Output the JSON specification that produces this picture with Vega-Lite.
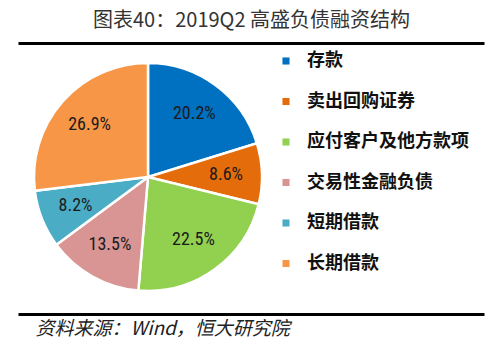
{
  "$schema": "https://vega.github.io/schema/vega-lite/v6.json",
  "width": 466,
  "height": 271,
  "autosize": {"type": "none"},
  "padding": {"left": 18, "top": 43, "right": 14, "bottom": 37},
  "background": "white",
  "config": {"view": {"stroke": null}, "font": "Noto Sans CJK SC"},
  "data": {
    "values": [
      {"category": "存款", "value": 20.2, "order": 1, "label": "20.2%"},
      {"category": "卖出回购证券", "value": 8.6, "order": 2, "label": "8.6%"},
      {"category": "应付客户及他方款项", "value": 22.5, "order": 3, "label": "22.5%"},
      {"category": "交易性金融负债", "value": 13.5, "order": 4, "label": "13.5%"},
      {"category": "短期借款", "value": 8.2, "order": 5, "label": "8.2%"},
      {"category": "长期借款", "value": 26.9, "order": 6, "label": "26.9%"}
    ]
  },
  "layer": [
    {
      "mark": {"type": "arc", "outerRadius": 114, "stroke": "white", "strokeWidth": 2.5, "x": 130, "y": 134},
      "encoding": {
        "theta": {"field": "value", "type": "quantitative", "stack": true},
        "order": {"field": "order", "type": "quantitative"},
        "color": {
          "field": "category",
          "type": "nominal",
          "sort": ["存款", "卖出回购证券", "应付客户及他方款项", "交易性金融负债", "短期借款", "长期借款"],
          "scale": {
            "domain": ["存款", "卖出回购证券", "应付客户及他方款项", "交易性金融负债", "短期借款", "长期借款"],
            "range": ["#0070C0", "#E46C0A", "#92D050", "#D99594", "#4BACC6", "#F79646"]
          },
          "legend": {
            "orient": "none",
            "legendX": 259,
            "legendY": 9,
            "title": null,
            "symbolType": "square",
            "symbolSize": 50,
            "symbolStrokeWidth": 0,
            "symbolOpacity": 1,
            "labelFont": "Noto Sans CJK SC",
            "labelFontSize": 18,
            "labelFontWeight": "bold",
            "labelColor": "#111111",
            "labelOffset": 12,
            "labelLimit": 300,
            "rowPadding": 22.5
          }
        }
      }
    },
    {
      "mark": {"type": "text", "radius": 78, "x": 130, "y": 134, "fontSize": 18, "font": "Liberation Sans Narrow, Roboto Condensed, Liberation Sans", "color": "#1a1a1a"},
      "encoding": {
        "theta": {"field": "value", "type": "quantitative", "stack": true},
        "order": {"field": "order", "type": "quantitative"},
        "text": {"field": "label", "type": "nominal"}
      }
    },
    {
      "mark": {"type": "point", "opacity": 0},
      "encoding": {
        "x": {
          "field": "value",
          "type": "quantitative",
          "axis": {
            "orient": "bottom",
            "domain": true,
            "domainColor": "black",
            "domainWidth": 3,
            "ticks": false,
            "labels": false,
            "grid": false,
            "title": "资料来源：Wind，恒大研究院",
            "titleAnchor": "start",
            "titleAlign": "left",
            "titleX": 17,
            "titleFont": "Noto Sans CJK SC",
            "titleFontStyle": "italic",
            "titleFontWeight": "normal",
            "titleFontSize": 19,
            "titleColor": "#222222",
            "titlePadding": 5
          }
        }
      }
    },
    {
      "mark": {"type": "point", "opacity": 0},
      "encoding": {
        "x": {
          "field": "value",
          "type": "quantitative",
          "axis": {
            "orient": "top",
            "domain": true,
            "domainColor": "black",
            "domainWidth": 3,
            "ticks": false,
            "labels": false,
            "grid": false,
            "title": "图表40：2019Q2 高盛负债融资结构",
            "titleAnchor": "middle",
            "titleFont": "Noto Sans CJK SC",
            "titleFontWeight": "normal",
            "titleFontSize": 20,
            "titleColor": "#333333",
            "titlePadding": 13
          }
        }
      }
    }
  ],
  "resolve": {"scale": {"x": "independent"}, "axis": {"x": "independent"}}
}
